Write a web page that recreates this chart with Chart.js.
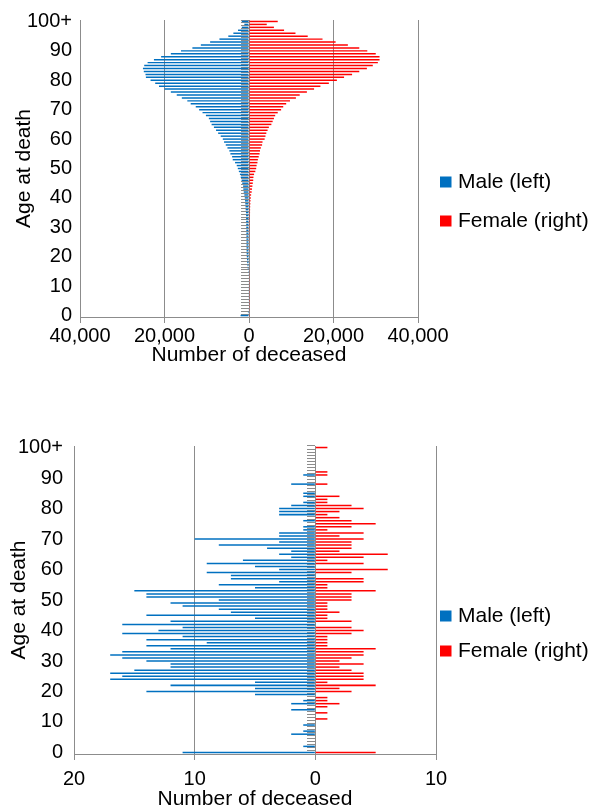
<!DOCTYPE html>
<html>
<head>
<meta charset="utf-8">
<script src="https://cdn.jsdelivr.net/npm/chart.js@4.4.1/dist/chart.umd.min.js"></script>
<style>
html, body { margin: 0; padding: 0; background: #fff; }
.box { position: absolute; left: 0; width: 599px; }
#topBox { top: 0; height: 368px; }
#bottomBox { top: 420px; height: 392px; }
</style>
</head>
<body>
<div class="box" id="topBox"><canvas id="allChart"></canvas></div>
<div class="box" id="bottomBox"><canvas id="groupChart"></canvas></div>
<script>
// ages 0 .. 100+
var ages = [];
for (var a = 0; a < 100; a++) ages.push(String(a));
ages.push('100+');

// all deceased, by age (index = age)
var allMale = [2000, 250, 150, 120, 100, 90, 80, 80, 80, 80,
    90, 100, 110, 130, 160, 200, 280, 350, 420, 480,
    520, 560, 580, 590, 600, 600, 610, 620, 630, 640,
    650, 660, 680, 690, 700, 720, 790, 820, 880, 950,
    1000, 1100, 1250, 1350, 1400, 1600, 1750, 1950, 2150, 2400,
    2650, 2900, 3300, 3850, 4000, 4400, 4650, 5100, 5500, 5900,
    6200, 6700, 7300, 7800, 8300, 8850, 9200, 9500, 10200, 11000,
    11800, 12600, 13800, 14600, 15900, 17100, 18500, 20000, 21300, 22200,
    23300, 24400, 24500, 24900, 25100, 24800, 24000, 22500, 20800, 18500,
    16100, 13400, 11400, 9200, 7000, 4900, 3700, 2600, 1700, 1100,
    1700];
var allFemale = [200, 100, 60, 50, 40, 40, 40, 40, 40, 40,
    40, 50, 50, 60, 70, 80, 90, 100, 110, 120,
    130, 140, 140, 150, 150, 160, 160, 170, 180, 190,
    200, 210, 220, 230, 240, 250, 260, 280, 320, 350,
    420, 500, 630, 700, 800, 900, 1000, 1050, 1200, 1500,
    1700, 1800, 2000, 2100, 2300, 2500, 2600, 2800, 3100, 3200,
    3700, 3900, 4100, 4400, 4700, 5300, 5600, 5900, 6200, 6800,
    7600, 8100, 8800, 9700, 11100, 12000, 13700, 15400, 16900, 18900,
    20800, 22500, 24400, 26100, 27900, 29300, 30500, 30900, 30900, 30000,
    28000, 26100, 23400, 20500, 17400, 13900, 11000, 8300, 5900, 4200,
    6800];

// the small group, by age (index = age)
var groupMale = [11, 0, 1, 0, 0, 0, 2, 1, 0, 1,
    0, 0, 0, 0, 2, 0, 2, 1, 0, 5,
    14, 5, 12, 5, 17, 16, 17, 15, 12, 12,
    14, 16, 17, 16, 12, 14, 9, 14, 11, 16,
    13, 11, 16, 12, 5, 14, 7, 8, 11, 12,
    8, 14, 14, 15, 5, 8, 3, 7, 7, 9,
    3, 5, 9, 6, 2, 3, 2, 4, 8, 3,
    10, 3, 3, 1, 1, 0, 1, 0, 3, 3,
    3, 2, 1, 0, 1, 1, 0, 0, 2, 0,
    0, 1, 0, 0, 0, 0, 0, 0, 0, 0,
    0];
var groupFemale = [5, 0, 0, 0, 0, 0, 0, 0, 0, 0,
    0, 1, 0, 1, 0, 1, 2, 1, 1, 0,
    3, 2, 5, 1, 4, 4, 4, 3, 2, 4,
    2, 3, 4, 4, 5, 1, 1, 1, 1, 3,
    4, 3, 0, 3, 1, 1, 2, 1, 1, 1,
    3, 3, 3, 5, 1, 1, 4, 4, 0, 3,
    6, 0, 4, 1, 4, 6, 2, 3, 3, 3,
    4, 2, 4, 1, 3, 5, 3, 2, 1, 2,
    4, 3, 1, 1, 2, 0, 0, 0, 1, 0,
    0, 1, 1, 0, 0, 0, 0, 0, 0, 0,
    1];

var allTicks = [-40000, -20000, 0, 20000, 40000];
var groupTicks = [-20, -10, 0, 10];

Chart.defaults.font.family = '"Liberation Sans", Arial, Helvetica, sans-serif';
Chart.defaults.color = '#000';
var gray = '#8c8c8c';

// legend drawn at the right side of each chart
var sideLegend = {
    id: 'sideLegend',
    afterDraw: function (chart, args, opts) {
        var c = chart.ctx;
        c.save();
        c.font = '21px "Liberation Sans", Arial, sans-serif';
        c.textBaseline = 'middle';
        chart.data.datasets.forEach(function (ds, i) {
            var y = opts.y[i];
            c.fillStyle = ds.backgroundColor;
            c.fillRect(opts.x, y - 5.5, 11.5, 11);
            c.fillStyle = '#000';
            c.fillText(ds.label, opts.x + 18, y);
        });
        c.restore();
    }
};

function pyramid(id, male, female, ticks, o) {
    var ctx = document.getElementById(id);
    return new Chart(ctx, {
        type: 'bar',
        data: {
            labels: ages,
            datasets: [{
                label: 'Male (left)',
                data: male.map(function (v) { return -v; }),
                backgroundColor: '#0070c0',
                barPercentage: 0.5,
                categoryPercentage: 1
            }, {
                label: 'Female (right)',
                data: female,
                backgroundColor: '#ff0000',
                barPercentage: 0.5,
                categoryPercentage: 1
            }]
        },
        options: {
            indexAxis: 'y',
            responsive: true,
            maintainAspectRatio: false,
            animation: false,
            layout: { padding: { top: o.top, right: o.right, left: 0, bottom: 0 } },
            plugins: {
                legend: { display: false },
                tooltip: { enabled: false },
                sideLegend: { x: 440, y: o.legendY }
            },
            scales: {
                x: {
                    type: 'linear',
                    stacked: true,
                    min: ticks[0],
                    max: ticks[ticks.length - 1],
                    afterBuildTicks: function (s) {
                        s.ticks = ticks.map(function (v) { return { value: v }; });
                    },
                    afterFit: function (s) { s.height = o.xHeight; },
                    grid: { color: gray, lineWidth: 1, tickLength: 6 },
                    border: { color: gray },
                    ticks: {
                        font: { size: 20 },
                        padding: o.xPad,
                        maxRotation: 0,
                        callback: function (v) { return Math.abs(v).toLocaleString('en-US'); }
                    },
                    title: {
                        display: true,
                        text: 'Number of deceased',
                        font: { size: 21 },
                        padding: { top: 0, bottom: 0 }
                    }
                },
                y: {
                    type: 'category',
                    stacked: true,
                    reverse: true,
                    afterFit: function (s) { s.width = o.yWidth; },
                    grid: { display: false, drawTicks: false },
                    border: { display: false },
                    ticks: {
                        autoSkip: false,
                        font: { size: 20 },
                        padding: o.yPad,
                        callback: function (v, i) { return i % 10 === 0 ? ages[i] : ''; }
                    },
                    title: {
                        display: true,
                        text: 'Age at death',
                        font: { size: 21 },
                        padding: { top: o.titlePad, bottom: 0 }
                    }
                },
                // tick marks on the zero line
                y2: {
                    type: 'category',
                    axis: 'y',
                    position: { x: 0 },
                    reverse: true,
                    offset: true,
                    grid: { display: true, drawOnChartArea: false, drawTicks: true, tickLength: 8, color: gray, offset: true },
                    border: { display: true, color: gray },
                    ticks: { display: false, autoSkip: false }
                }
            }
        },
        plugins: [sideLegend]
    });
}

// all deceased
var allChart = pyramid('allChart', allMale, allFemale, allTicks,
    { top: 19, right: 181, xHeight: 51, xPad: 1, yWidth: 80, yPad: 8, titlePad: 12, legendY: [182, 221] });

// the group
var groupChart = pyramid('groupChart', groupMale, groupFemale, groupTicks,
    { top: 26, right: 163, xHeight: 58, xPad: 7, yWidth: 74, yPad: 11, titlePad: 7, legendY: [196, 231] });
</script>
</body>
</html>
